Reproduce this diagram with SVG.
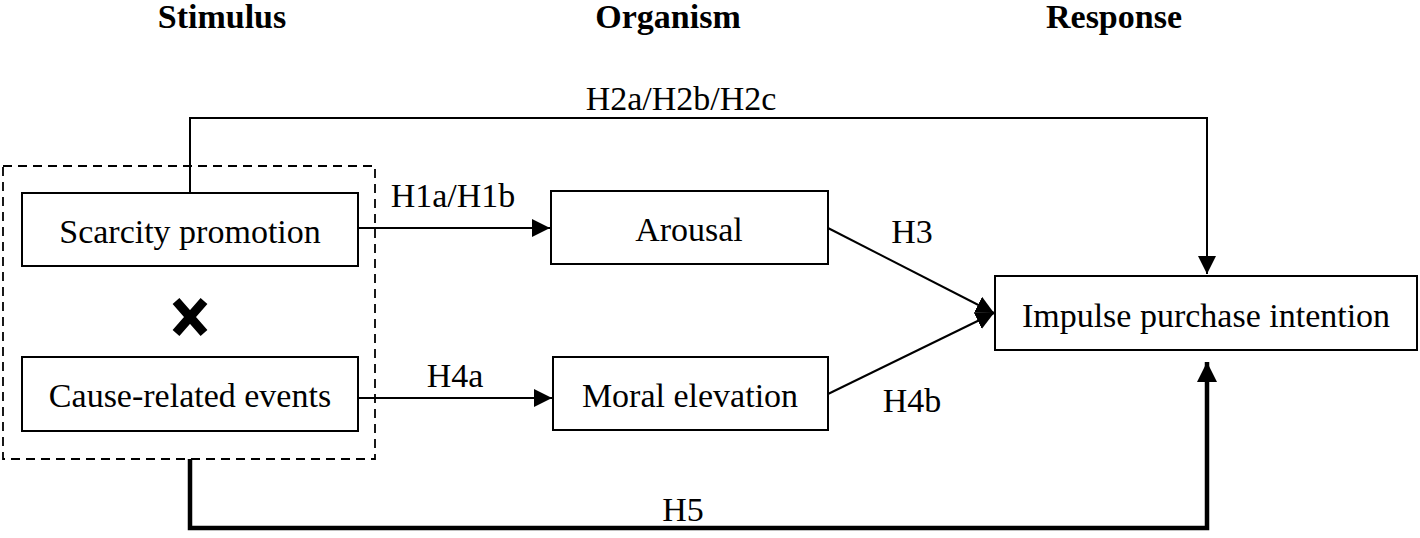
<svg xmlns="http://www.w3.org/2000/svg" width="1420" height="538" viewBox="0 0 1420 538">
<style>
text{font-family:"Liberation Serif","Times New Roman",serif;fill:#000;}
.hd{font-size:34px;font-weight:bold;text-anchor:middle;}
.nd{font-size:34px;text-anchor:middle;}
.lb{font-size:34px;text-anchor:middle;}
.box{fill:#fff;stroke:#000;stroke-width:2;}
.ln{fill:none;stroke:#000;stroke-width:2;}
.th{fill:none;stroke:#000;stroke-width:4.5;}
</style>
<defs>
<marker id="ah" markerWidth="20" markerHeight="18" refX="18" refY="9" orient="auto" markerUnits="userSpaceOnUse">
<path d="M0,0 L18,9 L0,18 Z" fill="#000"/>
</marker>
<marker id="ah2" markerWidth="22" markerHeight="22" refX="20" refY="11" orient="auto" markerUnits="userSpaceOnUse">
<path d="M0,1 L20,11 L0,21 Z" fill="#000"/>
</marker>
</defs>
<text class="hd" x="222" y="28">Stimulus</text>
<text class="hd" x="668" y="28">Organism</text>
<text class="hd" x="1114" y="28">Response</text>
<g id="connectors">
<path class="ln" d="M190,193 V118 H1207 V274" marker-end="url(#ah)"/>
<path class="ln" d="M358,228 H550" marker-end="url(#ah)"/>
<path class="ln" d="M358,398 H552" marker-end="url(#ah)"/>
<path class="ln" d="M828,228 L994,313" marker-end="url(#ah)"/>
<path class="ln" d="M828,394 L994,313" marker-end="url(#ah)"/>
<path class="th" d="M190,459 V528 H1207 V362" marker-end="url(#ah2)"/>
<text class="lb" x="681" y="110">H2a/H2b/H2c</text>
<text class="lb" x="453" y="207">H1a/H1b</text>
<text class="lb" x="455" y="387">H4a</text>
<text class="lb" x="912" y="243">H3</text>
<text class="lb" x="912" y="412">H4b</text>
<text class="lb" x="683" y="521">H5</text>
</g>
<g id="group-stimulus">
<rect x="3" y="166" width="372" height="293" fill="none" stroke="#000" stroke-width="1.8" stroke-dasharray="9,6"/>
</g>
<g id="node-scarcity">
<rect class="box" x="22" y="193" width="336" height="73"/>
<text class="nd" x="190" y="243">Scarcity promotion</text>
</g>
<g id="node-cross">
<path d="M176,301 L204,333 M204,301 L176,333" stroke="#000" stroke-width="9" stroke-linecap="butt"/>
</g>
<g id="node-cause">
<rect class="box" x="22" y="357" width="336" height="74"/>
<text class="nd" x="190" y="407">Cause-related events</text>
</g>
<g id="node-arousal">
<rect class="box" x="551" y="191" width="277" height="73"/>
<text class="nd" x="689" y="241">Arousal</text>
</g>
<g id="node-moral">
<rect class="box" x="553" y="357" width="275" height="73"/>
<text class="nd" x="690" y="407">Moral elevation</text>
</g>
<g id="node-impulse">
<rect class="box" x="995" y="276" width="422" height="74"/>
<text class="nd" x="1206" y="327">Impulse purchase intention</text>
</g>
</svg>
